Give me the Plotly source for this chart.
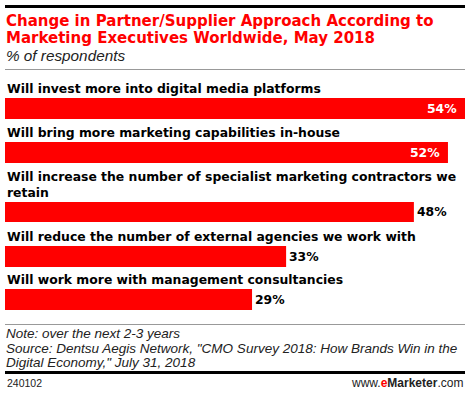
import plotly.graph_objects as go

W, H = 470, 395

categories = [
    "Will invest more into digital media platforms",
    "Will bring more marketing capabilities in-house",
    "Will increase the number of specialist marketing contractors we<br>retain",
    "Will reduce the number of external agencies we work with",
    "Will work more with management consultancies",
]
values = [54, 52, 48, 33, 29]
value_labels = ["54%", "52%", "48%", "33%", "29%"]

title_lines = ["Change in Partner/Supplier Approach According to",
               "Marketing Executives Worldwide, May 2018"]
subtitle = "% of respondents"
note_lines = ["Note: over the next 2-3 years",
              "Source: Dentsu Aegis Network, \"CMO Survey 2018: How Brands Win in the",
              "Digital Economy,\" July 31, 2018"]
chart_id = "240102"

RED = "#ff0000"
LABEL_FONT = dict(family="DejaVu Sans", size=12.4, color="#000000")

# pixel layout of bars (top, bottom)
bar_px = [(98, 119), (142, 163), (202, 222), (246, 267), (289, 310)]
X0, X1 = 5, 465


def yp(py):
    return 1 - py / H


def xp(px):
    return px / W


fig = go.Figure()
annotations = []
shapes = []
layout_axes = {}

for i, (cat, val, lab) in enumerate(zip(categories, values, value_labels)):
    n = "" if i == 0 else str(i + 1)
    xa, ya = "x" + n, "y" + n
    fig.add_trace(go.Bar(
        x=[val], y=[0], orientation="h", width=1,
        marker=dict(color=RED, line=dict(width=0)),
        xaxis=xa, yaxis=ya, showlegend=False, hoverinfo="skip",
    ))
    top, bot = bar_px[i]
    layout_axes["xaxis" + n] = dict(domain=[xp(X0), xp(X1)], range=[0, max(values)],
                                    visible=False, fixedrange=True, anchor=ya)
    layout_axes["yaxis" + n] = dict(domain=[yp(bot), yp(top)], range=[-0.5, 0.5],
                                    visible=False, fixedrange=True, anchor=xa)
    # category label above bar
    annotations.append(dict(
        text="<b>" + cat + "</b>", xref="paper", x=xp(X0), xanchor="left",
        yref=ya, y=0.5, yanchor="bottom", yshift=0, showarrow=False,
        align="left", font=LABEL_FONT,
    ))
    # value label
    inside = val >= 50
    annotations.append(dict(
        text="<b>" + lab + "</b>", xref=xa, x=val,
        xanchor="right" if inside else "left",
        xshift=-6 if inside else 1,
        yref=ya, y=0, yanchor="middle", showarrow=False,
        font=dict(family="DejaVu Sans", size=12.4,
                  color="#ffffff" if inside else "#000000"),
    ))

# title
annotations.append(dict(text="<b>" + title_lines[0] + "</b>", xref="paper", yref="paper",
                        x=xp(4), y=yp(20.5), xanchor="left", yanchor="middle",
                        showarrow=False, font=dict(family="DejaVu Sans", size=15, color=RED)))
annotations.append(dict(text="<b>" + title_lines[1] + "</b>", xref="paper", yref="paper",
                        x=xp(4), y=yp(37.5), xanchor="left", yanchor="middle",
                        showarrow=False, font=dict(family="DejaVu Sans", size=15, color=RED)))
annotations.append(dict(text="<i>" + subtitle + "</i>", xref="paper", yref="paper",
                        x=xp(4), y=yp(56), xanchor="left", yanchor="middle",
                        showarrow=False, font=dict(family="Liberation Sans", size=15.3, color="#222222")))

note_y = [333.5, 348, 362.5]
for t, y in zip(note_lines, note_y):
    annotations.append(dict(text="<i>" + t + "</i>", xref="paper", yref="paper",
                            x=xp(4), y=yp(y), xanchor="left", yanchor="middle",
                            showarrow=False, font=dict(family="Liberation Sans", size=13.5, color="#222222")))

annotations.append(dict(text=chart_id, xref="paper", yref="paper",
                        x=xp(5), y=yp(382.5), xanchor="left", yanchor="middle",
                        showarrow=False, font=dict(family="Liberation Sans", size=10.5, color="#222222")))
annotations.append(dict(text="www.<b><span style='color:#ff0000'>e</span>Marketer</b>.com",
                        xref="paper", yref="paper",
                        x=xp(465), y=yp(382.5), xanchor="right", yanchor="middle",
                        showarrow=False, font=dict(family="Liberation Sans", size=12, color="#222222")))

# rules
shapes.append(dict(type="rect", xref="paper", yref="paper", x0=xp(X0), x1=xp(X1),
                   y0=yp(8), y1=yp(5), fillcolor="#000000", line=dict(width=0), layer="above"))
shapes.append(dict(type="line", xref="paper", yref="paper", x0=xp(X0), x1=xp(X1),
                   y0=yp(69.5), y1=yp(69.5), line=dict(color="#999999", width=1)))
shapes.append(dict(type="line", xref="paper", yref="paper", x0=xp(X0), x1=xp(X1),
                   y0=yp(324.5), y1=yp(324.5), line=dict(color="#999999", width=1)))
shapes.append(dict(type="rect", xref="paper", yref="paper", x0=xp(X0), x1=xp(X1),
                   y0=yp(374), y1=yp(371), fillcolor="#000000", line=dict(width=0), layer="above"))

fig.update_layout(
    width=W, height=H,
    margin=dict(l=0, r=0, t=0, b=0),
    paper_bgcolor="#ffffff", plot_bgcolor="rgba(0,0,0,0)",
    annotations=annotations, shapes=shapes,
    **layout_axes,
)

fig.write_html("out.html", config={"displayModeBar": False},
               post_script="document.body.style.margin='0';document.body.style.overflow='hidden';")
